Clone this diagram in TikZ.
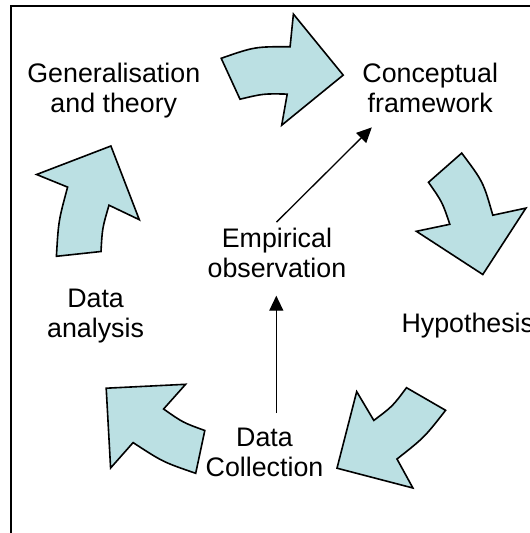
\documentclass[tikz,border=0pt]{standalone}
\usepackage{fontspec}
\setmainfont{Liberation Sans}
\usetikzlibrary{arrows.meta}
\definecolor{arrowfill}{RGB}{187,224,227}
\newcommand{\twolines}[2]{\begin{tabular}[t]{@{}c@{}}#1\\#2\end{tabular}}
\begin{document}
\begin{tikzpicture}[x=1pt,y=-1pt,
  blk/.style={draw=black, fill=arrowfill, line width=1.6pt, line join=miter, miter limit=10},
  lbl/.style={font=\fontsize{26.8}{30}\selectfont, inner sep=0pt, anchor=base},
  conn/.style={line width=1.3pt, -{Triangle[length=15pt,width=14pt]}},
  framestyle/.style={line width=1.7pt}]
\useasboundingbox (0,0) rectangle (530,533);
\clip (0,0) rectangle (530,533);
% frame
\draw[framestyle] (10.8,540) -- (10.8,6.3) -- (540,6.3);
% block arrows
\draw[blk] (221.2,58.3) .. controls (254.6,46.7) .. (290.1,46.7) -- (293.4,14.1) -- (343.2,75.1) -- (281.7,125.2) -- (287.2,94.1) .. controls (263.5,93.6) .. (240,99.2) -- cycle;
\draw[blk] (461.7,153.1) .. controls (483.2,181.7) .. (492.8,215.2) -- (525.9,208.1) -- (482.8,274.5) -- (416.4,231.3) -- (449.8,224.3) .. controls (442.4,202.2) .. (428.5,182.3) -- cycle;
\draw[blk] (445.6,410.3) .. controls (424.3,437.5) .. (397,459) -- (412.9,488) -- (337,468.2) -- (356.7,391.6) -- (373.8,420.4) .. controls (392.6,406.3) .. (406.5,387.7) -- cycle;
\draw[blk] (195.7,473.3) .. controls (162.9,462) .. (133.1,442.6) -- (110.6,468) -- (106.2,388.2) -- (185.6,384.3) -- (163.6,409) .. controls (183,422.6) .. (204.8,430.5) -- cycle;
\draw[blk] (101,251.5) .. controls (102.3,228.2) .. (109,205.2) -- (139.3,219.7) -- (110.9,146) -- (36.6,174.5) -- (67.6,187.1) .. controls (58.5,220.9) .. (56.4,256.3) -- cycle;
% labels
\node[lbl] (gen) at (113.8,82.6) {\twolines{Generalisation}{and theory}};
\node[lbl] (conc) at (430.2,82.6) {\twolines{Conceptual}{framework}};
\node[lbl] (emp) at (276.9,247.5) {\twolines{Empirical}{observation}};
\node[lbl] (anal) at (95.6,307.2) {\twolines{Data}{analysis}};
\node[lbl, anchor=base west] (hyp) at (401.3,332.5) {Hypothesis};
\node[lbl] (coll) at (264.5,446.5) {\twolines{Data}{Collection}};
% connectors
\coordinate (collTop) at (276.3,413);
\coordinate (empBot) at (276.3,295.7);
\coordinate (empTop) at (276.5,222.1);
\coordinate (concBot) at (371.8,127.4);
\draw[conn] (collTop) -- (empBot);
\draw[conn] (empTop) -- (concBot);
\end{tikzpicture}
\end{document}
